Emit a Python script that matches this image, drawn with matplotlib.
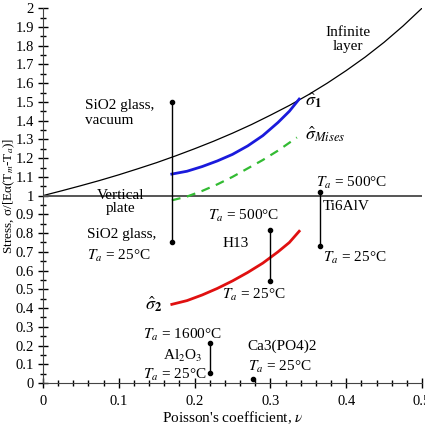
import numpy as np
import matplotlib
matplotlib.use('Agg')
import matplotlib.pyplot as plt
from matplotlib.ticker import MultipleLocator, FormatStrFormatter

plt.rcParams['font.family'] = ['Liberation Serif', 'DejaVu Serif']
plt.rcParams['mathtext.fontset'] = 'stix'

# infinite layer curve
nu_layer = [0.0, 0.025, 0.05, 0.075, 0.1, 0.125, 0.15, 0.175, 0.2, 0.225, 0.25,
            0.275, 0.3, 0.325, 0.35, 0.375, 0.4, 0.425, 0.45, 0.475, 0.5]
s_layer = [1.0, 1.026, 1.053, 1.081, 1.111, 1.143, 1.176, 1.212, 1.25, 1.29, 1.333,
           1.379, 1.429, 1.481, 1.538, 1.6, 1.667, 1.739, 1.818, 1.905, 2.0]

nu_s1 = [0.17, 0.19, 0.21, 0.23, 0.25, 0.27, 0.29, 0.31, 0.325, 0.338]
s_s1 = [1.115, 1.13, 1.155, 1.185, 1.22, 1.265, 1.32, 1.39, 1.45, 1.515]

nu_mises = [0.17, 0.19, 0.21, 0.23, 0.25, 0.27, 0.29, 0.31, 0.335]
s_mises = [0.975, 0.995, 1.025, 1.06, 1.1, 1.145, 1.19, 1.24, 1.31]

nu_s2 = [0.17, 0.19, 0.21, 0.23, 0.25, 0.27, 0.29, 0.31, 0.325, 0.338]
s_s2 = [0.42, 0.44, 0.47, 0.505, 0.545, 0.59, 0.64, 0.7, 0.75, 0.81]

# measured ranges (x, low, high)
bar_nu = [0.17, 0.3, 0.365, 0.22]
bar_lo = [0.75, 0.545, 0.73, 0.053]
bar_hi = [1.5, 0.815, 1.02, 0.212]
ca_nu, ca_s = 0.277, 0.02

fig = plt.figure(figsize=(4.25, 4.29), dpi=100)
ax = fig.add_axes([0.101, 0.107, 0.892, 0.874])

ax.plot(nu_layer, s_layer, color='black', lw=0.9)
ax.axhline(1.0, color='#555555', lw=1.4)
ax.plot(nu_s1, s_s1, color='#1a1adc', lw=2)
ax.plot(nu_mises, s_mises, color='#33bb33', lw=1.6, ls=(0, (4, 3)))
ax.plot(nu_s2, s_s2, color='#e01010', lw=2)

for x, lo, hi in zip(bar_nu, bar_lo, bar_hi):
    ax.plot([x, x], [lo, hi], color='black', lw=1, marker='o', ms=3)
ax.plot([ca_nu], [ca_s], 'o', color='black', ms=3)

fs = 11
ax.text(0.402, 1.835, 'Infinite\nlayer', ha='center', va='center', fontsize=fs, linespacing=1.1)
ax.text(0.055, 1.44, 'SiO2 glass,\nvacuum', ha='left', va='center', fontsize=fs, linespacing=1.2)
ax.text(0.102, 0.965, 'Vertical\nplate', ha='center', va='center', fontsize=fs, linespacing=1.05)
ax.text(0.058, 0.79, 'SiO2 glass,', ha='left', va='center', fontsize=fs)
ax.text(0.058, 0.68, '$T_a$ = 25°C', ha='left', va='center', fontsize=fs)
ax.text(0.345, 1.51, r'$\hat{\sigma}_\mathbf{1}$', ha='left', va='center', fontsize=13)
ax.text(0.345, 1.33, r'$\hat{\sigma}_{\mathit{Mises}}$', ha='left', va='center', fontsize=13)
ax.text(0.135, 0.42, r'$\hat{\sigma}_\mathbf{2}$', ha='left', va='center', fontsize=13)
ax.text(0.36, 1.07, '$T_a$ = 500°C', ha='left', va='center', fontsize=fs)
ax.text(0.369, 0.94, 'Ti6AlV', ha='left', va='center', fontsize=fs)
ax.text(0.369, 0.67, '$T_a$ = 25°C', ha='left', va='center', fontsize=fs)
ax.text(0.218, 0.89, '$T_a$ = 500°C', ha='left', va='center', fontsize=fs)
ax.text(0.272, 0.745, 'H13', ha='right', va='center', fontsize=fs)
ax.text(0.236, 0.47, '$T_a$ = 25°C', ha='left', va='center', fontsize=fs)
ax.text(0.132, 0.255, '$T_a$ = 1600°C', ha='left', va='center', fontsize=fs)
ax.text(0.211, 0.145, 'Al$_2$O$_3$', ha='right', va='center', fontsize=fs)
ax.text(0.132, 0.045, '$T_a$ = 25°C', ha='left', va='center', fontsize=fs)
ax.text(0.27, 0.195, 'Ca3(PO4)2', ha='left', va='center', fontsize=fs)
ax.text(0.27, 0.085, '$T_a$ = 25°C', ha='left', va='center', fontsize=fs)

ax.set_xlim(0, 0.5)
ax.set_ylim(0, 2)
ax.xaxis.set_major_locator(MultipleLocator(0.1))
ax.xaxis.set_minor_locator(MultipleLocator(0.02))
ax.yaxis.set_major_locator(MultipleLocator(0.1))
ax.yaxis.set_minor_locator(MultipleLocator(0.05))
ax.xaxis.set_major_formatter(FormatStrFormatter('%g'))
ax.yaxis.set_major_formatter(FormatStrFormatter('%g'))
ax.tick_params(which='major', direction='inout', length=7, width=1, labelsize=10.5)
ax.tick_params(which='minor', direction='inout', length=4, width=1)
ax.tick_params(axis='x', pad=5)
ax.tick_params(axis='y', pad=3)
for side in ['top', 'right']:
    ax.spines[side].set_visible(False)
ax.spines['left'].set_color('#444444')
ax.spines['bottom'].set_color('#444444')

ax.set_xlabel("Poisson's coefficient, $\\nu$", fontsize=11, labelpad=1)
ax.set_ylabel('Stress, σ/[Eα(T$_m$-T$_a$)]', fontsize=9.5)
ax.yaxis.set_label_coords(-0.069, 0.5)

fig.savefig('out.png', dpi=100)
